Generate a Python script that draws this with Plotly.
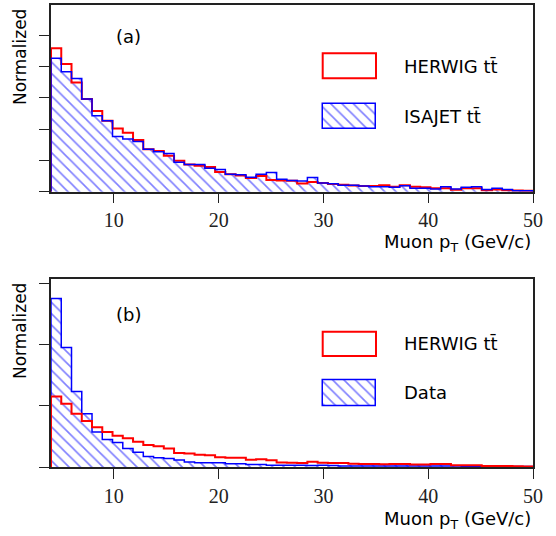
import numpy as np
import plotly.graph_objects as go

# ---------------- data ----------------
pt_min, pt_max, n_bins = 4.0, 50.0, 47
x_ticks = [10, 20, 30, 40, 50]

herwig_a = [4.58, 4.08, 3.49, 2.96, 2.58, 2.27, 2.02, 1.88, 1.65, 1.36, 1.30, 1.15,
            0.99, 0.87, 0.83, 0.79, 0.63, 0.56, 0.52, 0.44, 0.50, 0.37, 0.36, 0.35,
            0.26, 0.31, 0.28, 0.245, 0.22, 0.20, 0.18, 0.18, 0.21, 0.16, 0.21, 0.16,
            0.14, 0.11, 0.11, 0.06, 0.11, 0.11, 0.05, 0.07, 0.05, 0.04, 0.03]
isajet_a = [4.26, 3.83, 3.62, 2.96, 2.43, 2.27, 1.76, 1.68, 1.60, 1.36, 1.28, 1.22,
            0.94, 0.87, 0.87, 0.75, 0.71, 0.56, 0.54, 0.46, 0.56, 0.61, 0.40, 0.36,
            0.34, 0.45, 0.28, 0.255, 0.21, 0.21, 0.18, 0.16, 0.16, 0.14, 0.19, 0.11,
            0.11, 0.09, 0.16, 0.085, 0.14, 0.16, 0.07, 0.11, 0.07, 0.03, 0.03]
herwig_b = [1.15, 1.03, 0.87, 0.75, 0.65, 0.57, 0.51, 0.47, 0.41, 0.36, 0.34, 0.30,
            0.23, 0.22, 0.20, 0.19, 0.16, 0.15, 0.15, 0.12, 0.125, 0.11, 0.075, 0.07,
            0.065, 0.087, 0.07, 0.065, 0.065, 0.054, 0.05, 0.05, 0.045, 0.05, 0.05, 0.04,
            0.04, 0.05, 0.05, 0.027, 0.027, 0.027, 0.016, 0.015, 0.015, 0.012, 0.01]
data_b = [2.75, 1.95, 1.23, 0.87, 0.57, 0.45, 0.40, 0.30, 0.24, 0.17, 0.15, 0.14,
          0.115, 0.08, 0.07, 0.07, 0.07, 0.054, 0.054, 0.04, 0.04, 0.03, 0.03, 0.03,
          0.03, 0.025, 0.03, 0.025, 0.015, 0.015, 0.015, 0.015, 0.015, 0.015, 0.015, 0.015,
          0.015, 0.015, 0.015, 0.015, 0.007, 0.007, 0.007, 0.007, 0.007, 0.007, 0.007]

labels_a = ["HERWIG tt\u0304", "ISAJET tt\u0304"]
labels_b = ["HERWIG tt\u0304", "Data"]

# ---------------- geometry ----------------
W, H = 556, 536
ML, MR, MT, MB = 51, 23, 5, 69
PW, PH = W - ML - MR, H - MT - MB

def py(Y):  # pixel y -> paper y
    return (H - MB - Y) / PH

def px(X):
    return (X - ML) / PW

edges = np.linspace(pt_min, pt_max, n_bins + 1)
centers = 0.5 * (edges[:-1] + edges[1:])
width = float(edges[1] - edges[0])

RED = "#ff0000"
BLUE = "#0000ff"
SANS = "DejaVu Sans"
SERIF = "Liberation Serif"
PATTERN = dict(shape="\\", fgcolor=BLUE, bgcolor="white", size=8, solidity=0.2)

# y-axis ranges (tick units) and pixel frame of each panel
YR_A, YR_B = 5.965, 3.062
FRAME_A = (5.0, 191.7)
FRAME_B = (279.3, 467.0)

def step_xy(vals):
    xs = [float(edges[0])] + [float(e) for e in edges] + [float(edges[-1])]
    ys = [0.0] + list(vals) + [vals[-1], 0.0]
    return xs, ys

def pix_to_data(X, Y, frame, yr):
    top, bot = frame
    xd = pt_min + (X - ML) / PW * (pt_max - pt_min)
    yd = (bot - Y) / (bot - top) * yr
    return xd, yd

fig = go.Figure()

def add_panel(xa, ya, hatched, outline, red_on_top, frame, yr, sw_top):
    fig.add_trace(go.Bar(x=centers, y=hatched, width=width, xaxis=xa, yaxis=ya,
                         marker=dict(color="white", line=dict(width=0), pattern=PATTERN),
                         showlegend=False, hoverinfo="skip"))
    # legend swatch (hatched box)
    x0, y0 = pix_to_data(322.7, sw_top + 25.5, frame, yr)
    x1, y1 = pix_to_data(376.0, sw_top, frame, yr)
    fig.add_trace(go.Bar(x=[0.5 * (x0 + x1)], y=[y1 - y0], base=[y0], width=x1 - x0,
                         xaxis=xa, yaxis=ya,
                         marker=dict(color="white", line=dict(width=1.5, color=BLUE), pattern=PATTERN),
                         showlegend=False, hoverinfo="skip"))
    bx, by = step_xy(hatched)
    rx, ry = step_xy(outline)
    blue_tr = go.Scatter(x=bx, y=by, mode="lines", line=dict(color=BLUE, width=1.5, shape="hv"),
                         xaxis=xa, yaxis=ya, showlegend=False, hoverinfo="skip")
    red_tr = go.Scatter(x=rx, y=ry, mode="lines", line=dict(color=RED, width=2, shape="hv"),
                        xaxis=xa, yaxis=ya, showlegend=False, hoverinfo="skip")
    if red_on_top:
        fig.add_trace(blue_tr); fig.add_trace(red_tr)
    else:
        fig.add_trace(red_tr); fig.add_trace(blue_tr)

add_panel("x", "y", isajet_a, herwig_a, False, FRAME_A, YR_A, 103.5)
add_panel("x2", "y2", data_b, herwig_b, True, FRAME_B, YR_B, 380.5)

axis_common = dict(showline=True, mirror=True, linecolor="#222222", linewidth=1.5,
                   showgrid=False, zeroline=False, ticks="outside", ticklen=10,
                   tickwidth=1.2, tickcolor="#222222")

top_dom = [py(FRAME_A[1]), 1.0]
bot_dom = [0.0, py(FRAME_B[0])]

fig.update_layout(
    width=W, height=H, margin=dict(l=ML, r=MR, t=MT, b=MB, autoexpand=False),
    paper_bgcolor="white", plot_bgcolor="white", bargap=0, barmode="overlay",
    xaxis=dict(domain=[0, 1], anchor="y", range=[pt_min, pt_max], tickvals=x_ticks,
               tickfont=dict(family=SERIF, size=20, color="#222222"), **axis_common),
    yaxis=dict(domain=top_dom, anchor="x", range=[0, YR_A], tickvals=[0, 1, 2, 3, 4, 5],
               showticklabels=False, **axis_common),
    xaxis2=dict(domain=[0, 1], anchor="y2", range=[pt_min, pt_max], tickvals=x_ticks,
                tickfont=dict(family=SERIF, size=20, color="#222222"), **axis_common),
    yaxis2=dict(domain=bot_dom, anchor="x2", range=[0, YR_B], tickvals=[0, 1, 2, 3],
                showticklabels=False, **axis_common),
    font=dict(family=SANS, color="black"),
)

shapes = []
for ytop, ybot in [(53.3, 78.3), (331.7, 356.0)]:
    shapes.append(dict(type="rect", xref="paper", yref="paper",
                       x0=px(322.7), x1=px(376), y0=py(ybot), y1=py(ytop),
                       line=dict(color=RED, width=2), fillcolor="rgba(0,0,0,0)"))
fig.update_layout(shapes=shapes)

ann = []
def text(x, y, s, size=18, xanchor="left", angle=0):
    ann.append(dict(x=px(x), y=py(y), xref="paper", yref="paper", text=s, showarrow=False,
                    xanchor=xanchor, yanchor="middle", textangle=angle,
                    font=dict(family=SANS, size=size, color="black")))

text(401.7, 66, labels_a[0])
text(401.7, 116.7, labels_a[1])
text(401.7, 343.3, labels_b[0])
text(401.7, 392.7, labels_b[1])
text(128, 37, "(a)", size=18, xanchor="center")
text(128, 314, "(b)", size=18, xanchor="center")
text(533, 243, "Muon p<sub>T</sub> (GeV/c)", size=18, xanchor="right")
text(533, 520, "Muon p<sub>T</sub> (GeV/c)", size=18, xanchor="right")
text(20, 57, "Normalized", size=17, xanchor="center", angle=-90)
text(20, 331, "Normalized", size=17, xanchor="center", angle=-90)
fig.update_layout(annotations=ann)

fig.write_html("out.html", config={"displayModeBar": False},
               post_script="document.body.style.margin='0px';")
